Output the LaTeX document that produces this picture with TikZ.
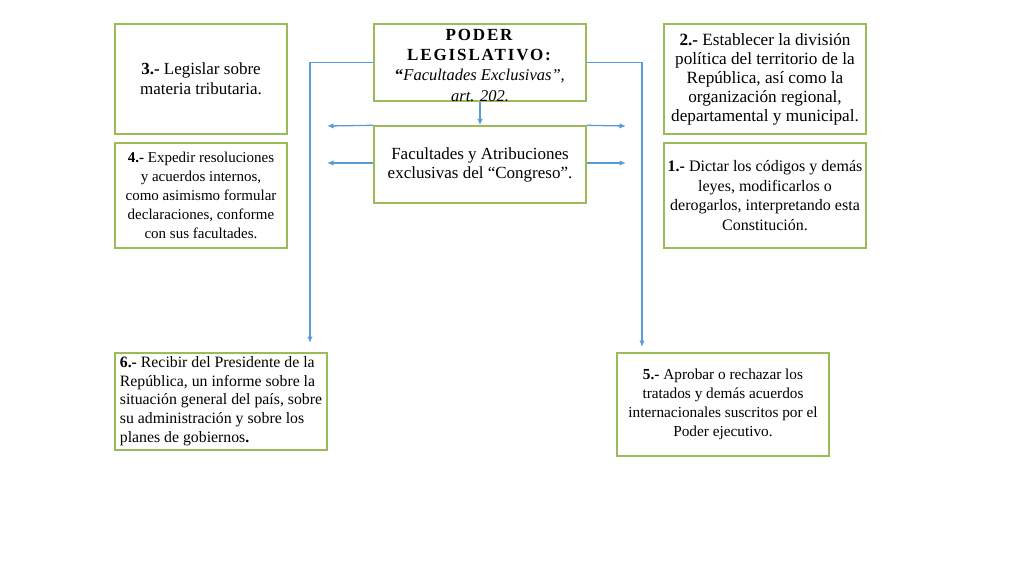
\documentclass[tikz,border=0pt]{standalone}
\usepackage{fontspec}
\setmainfont{Liberation Serif}
\newfontfamily\capsfont[LetterSpace=11]{Liberation Serif}
\usetikzlibrary{arrows.meta,positioning,calc}
\definecolor{boxgreen}{HTML}{9BBB59}
\definecolor{linkblue}{HTML}{5B9BD5}

\begin{document}
\begin{tikzpicture}[x=1pt,y=-1pt,
	box/.style={draw=boxgreen, line width=1.4pt, inner sep=3pt, align=center},
	link/.style={draw=linkblue, line width=1.3pt, -{Latex[length=6.5pt,width=5.5pt]}}]
	\useasboundingbox (0,0) rectangle (1024,576);
	
	% centre
	\node[box, minimum width=212, minimum height=77] (poder) at (480,62.5) {};
	\node[align=center, inner sep=0, font=\fontsize{16.5}{20}\selectfont] (podertxt) at (480,65.5)
	  {\textbf{\capsfont\fontsize{17}{20}\selectfont PODER}\\\textbf{\capsfont\fontsize{17}{20}\selectfont LEGISLATIVO:}\\
	   \textbf{``}\textit{Facultades Exclusivas'',}\\[1pt] \textit{art. 202.}};
	\node[box, minimum width=212, minimum height=77,
	  font=\fontsize{17}{19}\selectfont] (fac) at (480,164.5)
	  {Facultades y Atribuciones\\exclusivas del ``Congreso''.};
	
	% left
	\node[box, minimum width=172, minimum height=110,
	  font=\fontsize{17}{20}\selectfont] (leg) at (201,79)
	  {\textbf{3.-} Legislar sobre\\materia tributaria.};
	\node[box, minimum width=172, minimum height=105,
	  font=\fontsize{15}{19}\selectfont] (res) at (201,195.5)
	  {\textbf{4.-} Expedir resoluciones\\y acuerdos internos,\\como asimismo formular\\declaraciones, conforme\\con sus facultades.};
	\node[box, align=left, minimum width=212, minimum height=97,
	  font=\fontsize{15.8}{18.5}\selectfont] (inf) at (221,401.5)
	  {\textbf{6.-} Recibir del Presidente de la\\República, un informe sobre la\\situación general del país, sobre\\su administración y sobre los\\[1pt]planes de gobiernos\textbf{.}};
	
	% right
	\node[box, minimum width=202, minimum height=110,
	  font=\fontsize{17.2}{19}\selectfont] (div) at (765,79)
	  {\textbf{2.-} Establecer la división\\política del territorio de la\\República, así como la\\organización regional,\\departamental y municipal.};
	\node[box, inner xsep=1pt, minimum width=202, minimum height=105,
	  font=\fontsize{16}{19.5}\selectfont] (cod) at (765,195.5)
	  {\textbf{1.-} Dictar los códigos y demás\\leyes, modificarlos o\\derogarlos, interpretando esta\\Constitución.};
	\node[box, minimum width=212, minimum height=103,
	  font=\fontsize{15.3}{19}\selectfont] (tra) at (723,404.5)
	  {\textbf{5.-} Aprobar o rechazar los\\tratados y demás acuerdos\\internacionales suscritos por el\\Poder ejecutivo.};
	
	% arrow ends
	\coordinate (lt) at (327,126);
	\coordinate (rt) at (626,126);
	\coordinate (lm) at (327,163);
	\coordinate (rm) at (626,163);
	\coordinate (ld) at (310,343);
	\coordinate (rd) at (642,347);
	
	\draw[link] (poder) -- (fac);
	\draw[link] (fac.north west) -- (lt);
	\draw[link] (fac.north east) -- (rt);
	\draw[link] (fac.west |- lm) -- (lm);
	\draw[link] (fac.east |- rm) -- (rm);
	\draw[link] (poder.west) -| (ld);
	\draw[link] (poder.east) -| (rd);
\end{tikzpicture}
\end{document}
